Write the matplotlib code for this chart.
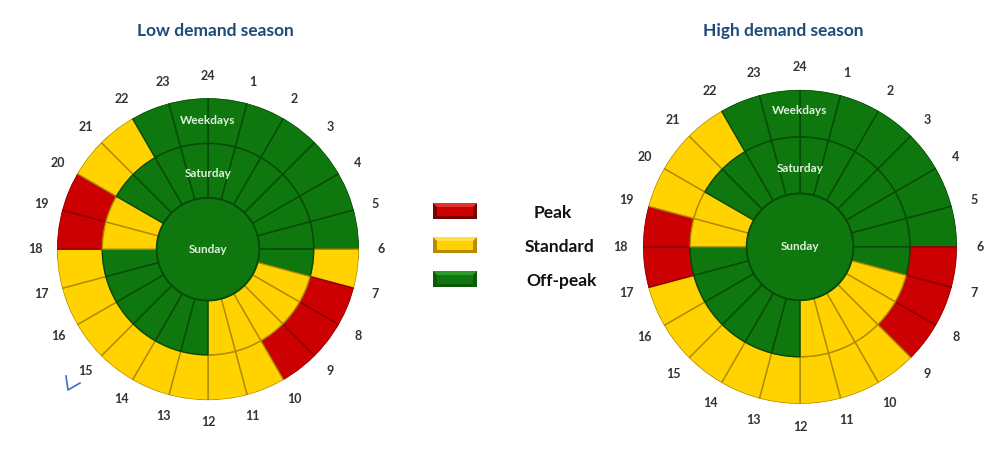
import numpy as np
import matplotlib
matplotlib.use("Agg")
import matplotlib.pyplot as plt
from matplotlib.patches import Rectangle, Polygon

plt.rcParams['font.family'] = ['Lato', 'DejaVu Sans']

# ---- data ----
hour_labels = [24] + list(range(1, 24))          # labels at segment boundaries
low_weekdays = ['O'] * 6 + ['S'] + ['P'] * 3 + ['S'] * 8 + ['P'] * 2 + ['S'] * 2 + ['O'] * 2
low_saturday = ['O'] * 7 + ['S'] * 5 + ['O'] * 6 + ['S'] * 2 + ['O'] * 4
high_weekdays = ['O'] * 6 + ['P'] * 3 + ['S'] * 8 + ['P'] * 2 + ['S'] * 3 + ['O'] * 2
high_saturday = ['O'] * 7 + ['S'] * 5 + ['O'] * 6 + ['S'] * 2 + ['O'] * 4
sunday = 'O'
legend_names = ['Peak', 'Standard', 'Off-peak']
legend_keys = ['P', 'S', 'O']

colors = {'P': '#CC0000', 'S': '#FFD200', 'O': '#0E780E'}
edges = {'P': '#8A0000', 'S': '#B08A00', 'O': '#064A06'}
lights = {'P': '#E03030', 'S': '#FFE040', 'O': '#2A9A2A'}
darks = {'P': '#7A0000', 'S': '#B88A00', 'O': '#0A5A0A'}

fig = plt.figure(figsize=(10, 4.61), dpi=100)
fig.patch.set_facecolor('white')

R_SUN, R_MID = 0.34, 0.70


def draw_clock(rect, weekdays, saturday, wk_r, sat_r):
    ax = fig.add_axes(rect, projection='polar')
    ax.set_theta_zero_location('N')
    ax.set_theta_direction(-1)
    n = len(weekdays)
    w = 2 * np.pi / n
    theta = np.arange(n) * w + w / 2
    ax.bar(theta, [1 - R_MID] * n, width=w, bottom=R_MID,
           color=[colors[c] for c in weekdays],
           edgecolor=[edges[c] for c in weekdays], linewidth=1.0)
    ax.bar(theta, [R_MID - R_SUN] * n, width=w, bottom=R_SUN,
           color=[colors[c] for c in saturday],
           edgecolor=[edges[c] for c in saturday], linewidth=1.0)
    ax.bar([np.pi], [R_SUN], width=2 * np.pi, bottom=0,
           color=colors[sunday], edgecolor='none', linewidth=0)
    circ = np.linspace(0, 2 * np.pi, 200)
    ax.plot(circ, np.full_like(circ, R_SUN), color=edges[sunday], linewidth=1.3)
    ax.set_ylim(0, 1)
    ax.set_axis_off()
    for i, lab in enumerate(hour_labels):
        ax.text(i * w, 1.145, str(lab), ha='center', va='center',
                fontsize=9, fontweight='bold', color='#333333', clip_on=False)
    ax.text(0, wk_r, 'Weekdays', ha='center', va='center', fontsize=8.5,
            fontweight='bold', color='#E2EEDD')
    ax.text(0, sat_r, 'Saturday', ha='center', va='center', fontsize=8.5,
            fontweight='bold', color='#E2EEDD')
    ax.text(0, 0, 'Sunday', ha='center', va='center', fontsize=8.5,
            fontweight='bold', color='#E2EEDD')
    return ax


draw_clock([0.057, 0.132, 0.302, 0.655], low_weekdays, low_saturday, 0.855, 0.50)
draw_clock([0.643, 0.124, 0.314, 0.681], high_weekdays, high_saturday, 0.87, 0.50)

fig.text(0.215, 1 - 31 / 461, 'Low demand season', ha='center', va='center',
         fontsize=12.5, fontweight='bold', color='#1F4A7A')
fig.text(0.783, 1 - 31 / 461, 'High demand season', ha='center', va='center',
         fontsize=12.5, fontweight='bold', color='#1F4A7A')

# legend / overlay in pixel coordinates
ov = fig.add_axes([0, 0, 1, 1], facecolor='none')
ov.set_xlim(0, 1000)
ov.set_ylim(461, 0)
ov.set_axis_off()
label_x = [553, 560, 562]
for i, (name, key) in enumerate(zip(legend_names, legend_keys)):
    y = 211 + i * 34
    x0, x1, y0, y1 = 433, 477, y - 8, y + 8
    b = 4
    # bevelled key: dark base, lighter top bevel, main face
    ov.add_patch(Rectangle((x0, y0), x1 - x0, y1 - y0, facecolor=darks[key],
                           edgecolor='none'))
    ov.add_patch(Polygon([(x0, y0), (x1, y0), (x1 - b, y0 + b), (x0 + b, y0 + b)],
                         closed=True, facecolor=lights[key], edgecolor='none'))
    ov.add_patch(Rectangle((x0 + b, y0 + b), x1 - x0 - 2 * b, y1 - y0 - 2 * b + 1,
                           facecolor=colors[key], edgecolor='none'))
    ov.text(label_x[i], y + 2, name, ha='center', va='center', fontsize=12.5,
            fontweight='bold', color='#111111')

# hand-drawn tick near "15"
ov.plot([66, 68, 80], [376, 390, 383], color='#3A6FD0', linewidth=1.2)

fig.savefig('out.png', dpi=100, facecolor='white')
